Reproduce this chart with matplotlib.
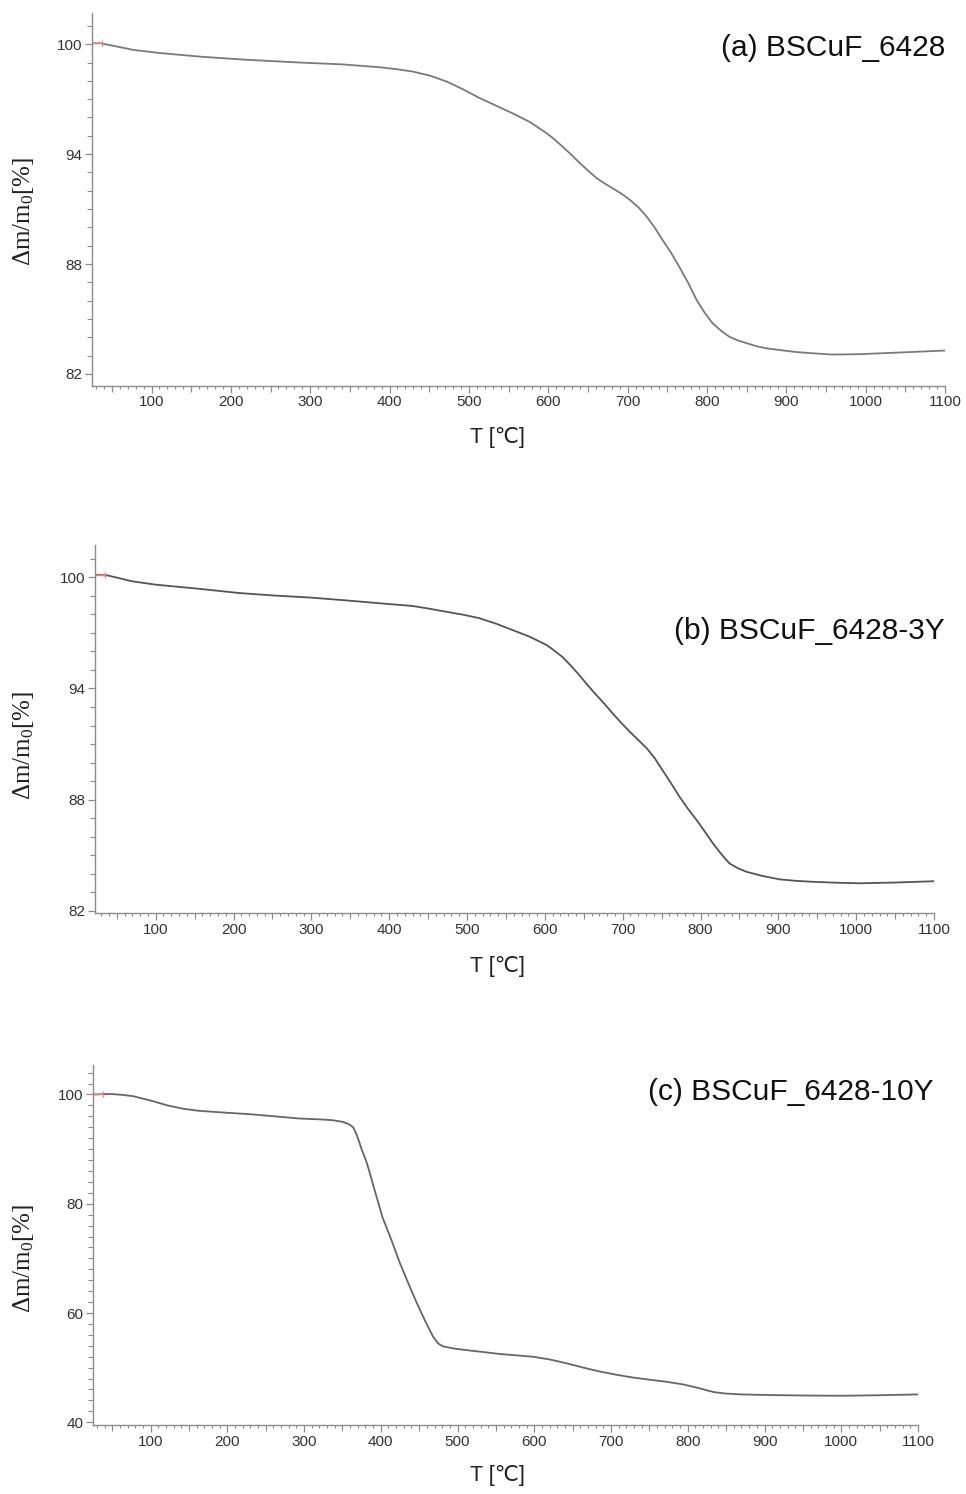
import matplotlib
matplotlib.use("Agg")
import matplotlib.pyplot as plt
from matplotlib.ticker import MultipleLocator, FixedLocator

plt.rcParams['mathtext.fontset'] = 'custom'
plt.rcParams['mathtext.rm'] = 'Liberation Serif'
plt.rcParams['mathtext.it'] = 'Liberation Serif:italic'

# (a) BSCuF_6428
t_a = [25, 36, 50, 77, 110, 162, 220, 287, 340, 388, 410, 430, 452, 472, 493, 514,
       535, 555, 577, 598, 608, 618, 629, 640, 651, 661, 671, 681, 692, 703, 714,
       724, 734, 744, 755, 765, 776, 787, 797, 807, 818, 828, 839, 850, 862, 875,
       891, 912, 933, 958, 992, 1042, 1100]
m_a = [100.05, 100.05, 99.93, 99.69, 99.52, 99.32, 99.15, 99.0, 98.9, 98.74, 98.63,
       98.5, 98.27, 97.96, 97.53, 97.05, 96.63, 96.23, 95.75, 95.14, 94.8, 94.41,
       93.97, 93.5, 93.07, 92.69, 92.4, 92.14, 91.85, 91.5, 91.08, 90.59, 90.0,
       89.32, 88.6, 87.86, 87.0, 86.04, 85.35, 84.77, 84.35, 84.04, 83.83, 83.68,
       83.52, 83.4, 83.31, 83.2, 83.13, 83.06, 83.08, 83.17, 83.28]

# (b) BSCuF_6428-3Y
t_b = [22, 38, 50, 70, 100, 155, 207, 250, 300, 345, 387, 430, 452, 473, 495, 516,
       537, 558, 580, 602, 612, 622, 633, 644, 655, 666, 677, 687, 698, 709, 720,
       731, 741, 751, 762, 773, 784, 795, 806, 816, 827, 837, 848, 859, 880, 902,
       923, 944, 975, 1005, 1050, 1100]
m_b = [100.12, 100.1, 99.98, 99.78, 99.6, 99.38, 99.15, 99.02, 98.9, 98.75, 98.6,
       98.45, 98.3, 98.14, 97.98, 97.79, 97.5, 97.16, 96.8, 96.35, 96.05, 95.72,
       95.25, 94.73, 94.18, 93.65, 93.15, 92.66, 92.15, 91.67, 91.22, 90.77, 90.25,
       89.6, 88.9, 88.16, 87.5, 86.9, 86.25, 85.64, 85.05, 84.57, 84.3, 84.11,
       83.88, 83.7, 83.62, 83.57, 83.52, 83.49, 83.53, 83.6]

# (c) BSCuF_6428-10Y
t_c = [25, 47, 62, 77, 100, 121, 142, 164, 195, 229, 262, 294, 320, 337, 350, 358,
       364, 369, 375, 382, 392, 402, 414, 425, 436, 447, 458, 468, 475, 481, 495,
       512, 534, 555, 577, 598, 620, 642, 664, 685, 707, 728, 750, 773, 795, 816,
       826, 835, 850, 870, 900, 950, 1000, 1050, 1100]
m_c = [100.0, 100.1, 99.95, 99.7, 98.9, 98.04, 97.4, 97.0, 96.7, 96.4, 96.0, 95.6,
       95.45, 95.3, 95.0, 94.6, 94.0, 92.5, 90.0, 87.4, 82.5, 77.6, 73.3, 69.1,
       65.4, 61.8, 58.5, 55.7, 54.4, 53.9, 53.5, 53.2, 52.85, 52.5, 52.25, 52.0,
       51.5, 50.8, 50.0, 49.3, 48.7, 48.2, 47.8, 47.4, 46.9, 46.2, 45.8, 45.5,
       45.25, 45.1, 45.0, 44.9, 44.85, 44.95, 45.1]

labels = ["(a) BSCuF_6428", "(b) BSCuF_6428-3Y", "(c) BSCuF_6428-10Y"]

W, H = 966, 1494
fig = plt.figure(figsize=(W / 100, H / 100), dpi=100)

# pixel boxes: left, right, top, bottom
boxes = [(92, 945, 12.7, 385.7), (95, 934, 545, 913.3), (93, 918, 1065, 1425)]
xlims = [(25, 1100), (22, 1100), (25, 1100)]
ylims = [(81.36, 101.72), (81.87, 101.74), (39.5, 105.4)]
yticks = [[82, 88, 94, 100], [82, 88, 94, 100], [40, 60, 80, 100]]
yminor = [1, 1, 2]
colors = ["#7a7a7a", "#555555", "#666666"]
label_pos = [(945, 48), (945, 631), (933, 1092)]
xlab_y = [437, 966, 1476]
ylab_y = [211, 745, 1258]

data = [(t_a, m_a), (t_b, m_b), (t_c, m_c)]

for i in range(3):
    l, r, t, b = boxes[i]
    ax = fig.add_axes([l / W, 1 - b / H, (r - l) / W, (b - t) / H])
    x, y = data[i]
    ax.plot(x, y, color=colors[i], lw=1.3)
    # red start marker
    ax.plot([x[0], x[0] + 13], [y[0], y[0]], color="#f08080", lw=0.8)
    ax.plot([x[0], x[0] + 13], [y[0], y[0]], ls="none", marker="|", ms=5,
            color="#f08080", mew=1)

    ax.set_xlim(*xlims[i])
    ax.set_ylim(*ylims[i])
    for s in ["top", "right"]:
        ax.spines[s].set_visible(False)
    for s in ["left", "bottom"]:
        ax.spines[s].set_color("#8c8c8c")
        ax.spines[s].set_linewidth(1.0)

    ax.xaxis.set_major_locator(FixedLocator(range(100, 1101, 100)))
    ax.xaxis.set_minor_locator(MultipleLocator(10))
    ax.yaxis.set_major_locator(FixedLocator(yticks[i]))
    ax.yaxis.set_minor_locator(MultipleLocator(yminor[i]))
    ax.tick_params(which="major", length=5, width=0.9, color="#8c8c8c",
                   labelsize=11, labelcolor="#333333", pad=2)
    ax.tick_params(which="minor", length=2.5, width=0.8, color="#8c8c8c")
    ax.tick_params(axis="y", which="minor", length=3.5)
    for lab in ax.get_xticklabels() + ax.get_yticklabels():
        lab.set_family("Liberation Sans")

    # medium ticks at the 50s
    sec = ax.secondary_xaxis("bottom")
    sec.set_xticks(range(50, 1100, 100))
    sec.tick_params(length=4, width=0.8, color="#8c8c8c", labelbottom=False)
    sec.spines["bottom"].set_visible(False)

    fig.text(label_pos[i][0] / W, 1 - label_pos[i][1] / H, labels[i],
             ha="right", va="center", fontsize=21.5, family="Liberation Sans",
             color="#111111")
    fig.text(497 / W, 1 - xlab_y[i] / H, "T [℃]", ha="center", va="center",
             fontsize=15.5, family=["Liberation Sans", "DejaVu Sans"], color="#222222")
    fig.text(24 / W, 1 - ylab_y[i] / H, r"Δm/m$_{\mathrm{0}}$[%]",
             rotation=90, ha="center", va="center", fontsize=18,
             family="Liberation Serif", color="#222222")

fig.savefig("out.png", dpi=100)
